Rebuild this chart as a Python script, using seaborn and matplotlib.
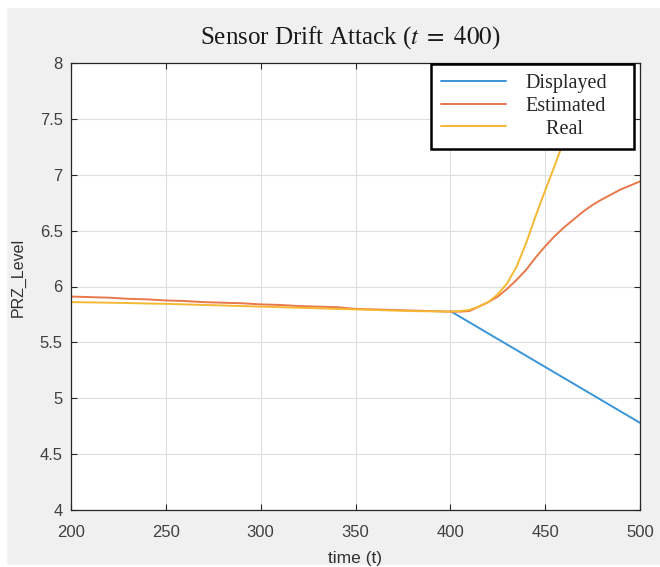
import numpy as np
import pandas as pd
import seaborn as sns
import matplotlib.pyplot as plt
from matplotlib.patches import Rectangle

# time axes for each series
t_pre = [200, 210, 220, 230, 240, 250, 260, 270, 280, 290, 300,
         310, 320, 330, 340, 350, 360, 370, 380, 390, 400]
t_post = [405, 410, 415, 420, 425, 430, 435, 440, 445, 450, 455, 460,
          465, 470, 475, 480, 490, 500]

est_pre = [5.91, 5.905, 5.90, 5.89, 5.885, 5.875, 5.87, 5.86, 5.855, 5.85, 5.84,
           5.835, 5.825, 5.82, 5.815, 5.80, 5.795, 5.79, 5.785, 5.78, 5.775]
real_pre = [5.86, 5.858, 5.855, 5.852, 5.848, 5.845, 5.84, 5.835, 5.83, 5.825, 5.82,
            5.815, 5.81, 5.805, 5.80, 5.795, 5.79, 5.785, 5.78, 5.778, 5.775]

est_post = [5.775, 5.78, 5.82, 5.86, 5.91, 5.98, 6.06, 6.15, 6.26, 6.36, 6.45, 6.53,
            6.60, 6.67, 6.73, 6.78, 6.87, 6.94]
real_post = [5.78, 5.79, 5.82, 5.86, 5.93, 6.03, 6.18, 6.39, 6.63, 6.86, 7.08, 7.31,
             7.52, 7.74, 7.95, 8.15, 8.50, 8.90]

t_disp = [400, 450, 500]
disp = [5.78, 5.28, 4.78]

labels = ["Displayed", "Estimated", "Real"]
colors = ["#3a95d8", "#e8784a", "#f4b833"]

sns.set_theme(style="white")
plt.rcParams['font.family'] = ['Liberation Sans', 'DejaVu Sans']
plt.rcParams['mathtext.fontset'] = 'stix'

fig = plt.figure(figsize=(6.6, 5.67), dpi=100, facecolor='#f0f0f0')
ax = fig.add_axes([71/660, 1-510/567, 569/660, 447/567])
ax.set_facecolor('white')

sns.lineplot(x=t_disp, y=disp, ax=ax, color=colors[0], lw=1.4, label=labels[0],
             estimator=None, sort=False)
sns.lineplot(x=t_pre + t_post, y=est_pre + est_post, ax=ax, color=colors[1], lw=1.4,
             label=labels[1], estimator=None, sort=False)
sns.lineplot(x=t_pre + t_post, y=real_pre + real_post, ax=ax, color=colors[2], lw=1.4,
             label=labels[2], estimator=None, sort=False)

ax.set_xlim(200, 500)
ax.set_ylim(4, 8)
ax.set_xticks(np.arange(200, 501, 50))
ax.set_yticks(np.arange(4, 8.01, 0.5))
ax.set_yticklabels(['4', '4.5', '5', '5.5', '6', '6.5', '7', '7.5', '8'])
ax.grid(True, color='#dedede', lw=0.8)
ax.tick_params(direction='in', length=4, width=0.8, colors='#262626',
               labelcolor='#404040', labelsize=12, top=True, right=True,
               bottom=True, left=True)
ax.tick_params(axis='x', pad=11)
ax.tick_params(axis='y', pad=6)
for s in ax.spines.values():
    s.set_color('#262626')
    s.set_linewidth(0.9)

ax.set_xlabel('time (t)', fontsize=12.5, color='#303030', labelpad=8)
ax.set_ylabel('PRZ_Level', fontsize=11.5, color='#303030')
ax.yaxis.set_label_coords(-0.08, 0.52)
ax.set_title(r'Sensor Drift Attack ($t\ =\ 400$)', fontsize=18,
             family=['Liberation Serif', 'DejaVu Serif'], color='#1a1a1a',
             pad=14, x=0.49)

leg = ax.legend(['Displayed', 'Estimated', '    Real'],
                loc='upper left', bbox_to_anchor=(0.633, 0.998, 0.356, 0.0),
                mode='expand', borderaxespad=0, fancybox=False, framealpha=1,
                edgecolor='black', handlelength=3.2,
                handletextpad=1.0, labelspacing=0.18, borderpad=0.5,
                prop={'family': 'Liberation Serif', 'size': 14.5})
leg.get_frame().set_linewidth(1.8)

# white strips at the image edges
fig.add_artist(Rectangle((0, 1-7/567), 1, 7/567, transform=fig.transFigure,
                         color='white', zorder=-1))
fig.add_artist(Rectangle((0, 0), 6/660, 1, transform=fig.transFigure,
                         color='white', zorder=-1))
fig.add_artist(Rectangle((0, 0), 1, 2/567, transform=fig.transFigure,
                         color='white', zorder=-1))

fig.savefig('out.png', dpi=100, facecolor=fig.get_facecolor())
